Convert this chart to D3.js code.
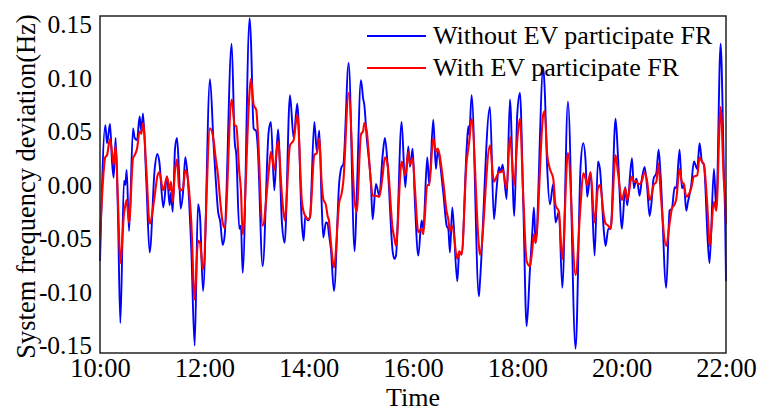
<!DOCTYPE html>
<html>
<head>
<meta charset="utf-8">
<script src="https://cdn.jsdelivr.net/npm/d3@7"></script>
<style>
  html, body { margin: 0; padding: 0; background: #fff; }
  text { font-family: "Liberation Serif", "Times New Roman", serif; fill: #000; }
</style>
</head>
<body>
<div id="chart"></div>
<script>
// minutes after 10:00
const minutes = [
  0, 6.1, 8.1, 11.5, 13.8, 15.7, 18.0, 20.7, 23.4, 27.6, 29.1, 30.7, 33.4, 38.0, 39.9, 42.6, 45.6, 47.5, 49.5, 53.3,
  57.1, 62.9, 65.9, 68.2, 72.8, 77.1, 80.1, 81.7, 83.6, 86.3, 88.6, 90.9, 92.8, 95.5, 98.1, 100.4, 105.0, 108.9, 112.7, 115.0, 118.5,
  126.5, 130.7, 132.6, 135.7, 138.4, 141.1, 143.4, 151.4, 154.9, 156.8, 160.2, 162.1, 164.1, 172.1, 173.6, 176.7, 179.8, 181.3,
  187.1, 194.0, 196.6, 200.5, 204.7, 209.3, 212.4, 218.5, 222.7, 226.9, 232.3, 234.2, 236.1, 239.2,
  241.5, 246.5, 249.5, 252.2, 254.9, 256.8, 259.9, 261.8, 263.3, 265.6, 269.1, 275.2, 277.9, 279.8, 286.0, 292.9, 295.2,
  300.1, 302.8, 304.0, 306.7, 311.6, 313.6, 317.4, 321.2, 325.1, 327.7, 330.8, 336.6, 338.5, 340.4, 346.9, 351.1, 354.6,
  356.5, 359.6, 362.2, 366.1, 369.9, 371.8, 376.4, 378.7, 383.3, 386.4, 388.3, 394.8, 398.7, 400.6, 402.5, 405.2, 410.9,
  413.2, 415.9, 421.7, 423.6, 424.7, 427.4, 435.8, 437.0, 448.5, 453.1, 456.2, 458.8, 460.8, 463.1, 467.7, 471.5, 476.5, 479.9,
  483.0, 486.8, 490.7, 494.5, 497.2, 499.1, 501.0, 509.8, 511.4, 514.4, 517.5, 521.3, 524.0, 527.8, 531.7, 538.2, 547.0,
  552.7, 555.8, 558.5, 560.4, 564.3, 568.9, 572.7, 575.0, 579.6, 581.5, 584.6, 587.3, 593.0,
  595.7, 600.3, 604.1, 606.4, 611.8, 614.1, 616.8, 618.7, 620.6, 623.3, 626.4, 629.4, 632.1, 634.0, 636.7, 639.8, 642.5,
  644.8, 651.3, 655.1, 657.8, 660.9, 662.8, 666.6, 669.3, 671.6, 674.3, 676.2, 680.0, 683.1, 686.9, 689.6, 692.3, 694.6,
  699.2, 701.1, 706.1, 708.8, 713.8, 717.6, 719.1, 720
];

const withoutEV = [
  -0.071, 0.056, 0.039, 0.057, 0.022, 0.007, 0.044, -0.029, -0.129, 0.004, 0.000, 0.014, -0.043, 0.053, 0.044, 0.042, 0.064, 0.050, 0.067, 0.003,
  -0.063, 0.015, 0.029, 0.022, -0.021, 0.008, -0.019, -0.007, -0.025, 0.034, 0.044, 0.012, -0.022, -0.007, 0.026, 0.012, -0.060, -0.150, -0.018, -0.029, -0.099,
  0.099, 0.037, 0.012, -0.024, -0.035, -0.056, -0.047, 0.132, 0.041, 0.028, -0.041, -0.038, -0.082, 0.156, 0.135, 0.053, 0.050, 0.037,
  -0.076, 0.050, 0.059, -0.005, 0.052, -0.036, -0.054, 0.084, 0.044, 0.076, -0.038, -0.052, -0.029, -0.033,
  -0.030, 0.059, 0.031, 0.051, -0.016, -0.049, -0.035, -0.036, -0.046, -0.060, -0.099, 0.003, 0.017, 0.019, 0.114, -0.062, -0.013,
  0.098, 0.080, 0.075, 0.045, 0.001, -0.032, 0.001, -0.010, 0.028, 0.044, 0.019, -0.062, -0.069, -0.066, 0.059, -0.002, 0.036,
  0.017, 0.034, -0.016, -0.066, -0.033, -0.041, 0.026, 0.000, 0.061, 0.015, 0.031, -0.007, -0.038, -0.041, -0.063, -0.021, -0.090,
  -0.063, -0.065, 0.034, 0.055, 0.047, 0.084, -0.104, -0.091, 0.073, -0.032, -0.003, 0.017, 0.012, 0.019, -0.013, 0.080, -0.029, 0.066,
  0.086, -0.016, -0.132, -0.079, -0.044, -0.021, -0.054, 0.110, 0.091, 0.015, -0.018, 0.001, -0.035, -0.025, -0.096, 0.078, -0.153,
  0.017, 0.039, 0.022, -0.011, 0.012, -0.066, 0.022, 0.015, -0.044, -0.057, -0.041, -0.041, 0.062,
  0.028, -0.041, -0.002, -0.019, 0.025, -0.003, 0.006, 0.000, -0.010, 0.006, 0.017, -0.003, -0.029, -0.019, 0.006, 0.011, 0.033,
  0.009, -0.096, -0.024, -0.022, -0.002, -0.003, 0.033, -0.003, 0.000, -0.024, -0.016, 0.000, 0.022, 0.015, 0.039, 0.022, 0.019,
  -0.055, -0.073, 0.015, -0.022, 0.132, 0.012, -0.035, -0.090
];

const withEV = [
  -0.049, 0.026, 0.028, 0.043, 0.031, 0.019, 0.037, -0.016, -0.073, -0.027, -0.019, -0.014, -0.035, 0.025, 0.028, 0.034, 0.050, 0.048, 0.058, 0.015,
  -0.036, -0.010, 0.008, 0.012, -0.005, 0.008, -0.005, 0.003, -0.016, 0.014, 0.024, -0.002, -0.005, -0.003, 0.014, 0.009, -0.035, -0.107, -0.052, -0.054, -0.079,
  0.053, 0.042, 0.028, 0.009, -0.016, -0.035, -0.040, 0.080, 0.056, 0.055, 0.012, -0.005, -0.046, 0.088, 0.099, 0.075, 0.070, 0.053,
  -0.038, 0.012, 0.031, 0.014, 0.041, -0.010, -0.033, 0.037, 0.042, 0.066, -0.016, -0.025, -0.029, -0.032,
  -0.030, 0.028, 0.030, 0.044, 0.003, -0.013, -0.019, -0.029, -0.033, -0.054, -0.077, -0.016, -0.008, 0.003, 0.086, -0.016, -0.025,
  0.047, 0.051, 0.058, 0.051, 0.003, -0.010, -0.010, -0.011, 0.009, 0.026, 0.019, -0.041, -0.049, -0.057, 0.022, 0.009, 0.031,
  0.019, 0.025, -0.003, -0.044, -0.041, -0.046, 0.000, 0.000, 0.044, 0.031, 0.034, 0.003, -0.025, -0.032, -0.043, -0.038, -0.069,
  -0.062, -0.065, 0.022, 0.034, 0.041, 0.062, -0.057, -0.065, 0.037, 0.003, 0.008, 0.012, 0.012, 0.014, -0.003, 0.045, 0.000, 0.042,
  0.062, -0.010, -0.071, -0.076, -0.060, -0.046, -0.054, 0.066, 0.069, 0.028, 0.015, 0.006, -0.019, -0.025, -0.069, 0.030, -0.084,
  -0.019, 0.011, 0.006, 0.000, 0.012, -0.035, -0.003, 0.000, -0.029, -0.036, -0.038, -0.041, 0.028,
  0.012, -0.014, -0.003, -0.014, 0.008, 0.003, 0.004, 0.001, 0.001, 0.004, 0.012, 0.003, -0.014, -0.011, 0.000, 0.003, 0.020,
  -0.007, -0.057, -0.036, -0.022, -0.018, -0.013, 0.015, 0.003, 0.001, -0.011, -0.010, -0.003, 0.008, 0.009, 0.026, 0.022, 0.019,
  -0.029, -0.057, -0.016, -0.024, 0.073, 0.003, -0.011, -0.036
];

const xTickMinutes = [0, 120, 240, 360, 480, 600, 720];
const xTickLabels = ["10:00", "12:00", "14:00", "16:00", "18:00", "20:00", "22:00"];
const yTicks = [-0.15, -0.10, -0.05, 0.00, 0.05, 0.10, 0.15];
const seriesNames = ["Without EV participate FR", "With EV participate FR"];
const seriesColors = ["#0000ff", "#ff0000"];

const width = 760, height = 411;
const margin = { top: 16, right: 34, bottom: 58, left: 100 };

const svg = d3.select("#chart")
  .append("svg")
  .attr("width", width)
  .attr("height", height);

const x = d3.scaleLinear().domain([0, 720]).range([margin.left, width - margin.right]);
const y = d3.scaleLinear().domain([-0.157, 0.158]).range([height - margin.bottom, margin.top]);

// axes (labels only, no tick marks)
const xAxis = svg.append("g")
  .attr("transform", `translate(0,${height - margin.bottom})`)
  .call(d3.axisBottom(x).tickValues(xTickMinutes).tickSize(0).tickPadding(5)
    .tickFormat((d, i) => xTickLabels[i]));
xAxis.select(".domain").remove();
xAxis.selectAll("text").attr("font-size", 26.5).attr("font-family", null);

const fmt = d3.format(".2f");
const yAxis = svg.append("g")
  .attr("transform", `translate(${margin.left},0)`)
  .call(d3.axisLeft(y).tickValues(yTicks).tickSize(0).tickPadding(8)
    .tickFormat(d => fmt(d).replace("\u2212", "-")));
yAxis.select(".domain").remove();
yAxis.selectAll("text").attr("font-size", 25.5).attr("font-family", null);

// lines
const rows = minutes.map((m, i) => ({ m, a: withoutEV[i], b: withEV[i] }));

const lineA = d3.line().x(d => x(d.m)).y(d => y(d.a)).curve(d3.curveMonotoneX);
const lineB = d3.line().x(d => x(d.m)).y(d => y(d.b)).curve(d3.curveMonotoneX);

svg.append("path")
  .datum(rows)
  .attr("fill", "none")
  .attr("stroke", seriesColors[0])
  .attr("stroke-width", 1.9)
  .attr("stroke-linejoin", "round")
  .attr("d", lineA);

svg.append("path")
  .datum(rows)
  .attr("fill", "none")
  .attr("stroke", seriesColors[1])
  .attr("stroke-width", 2.1)
  .attr("stroke-linejoin", "round")
  .attr("d", lineB);

// frame
svg.append("rect")
  .attr("x", margin.left)
  .attr("y", margin.top)
  .attr("width", width - margin.left - margin.right)
  .attr("height", height - margin.top - margin.bottom)
  .attr("fill", "none")
  .attr("stroke", "#222")
  .attr("stroke-width", 1.5);

// legend
const legend = svg.append("g").attr("transform", "translate(367,36)");
seriesNames.forEach((name, i) => {
  const row = legend.append("g").attr("transform", `translate(0,${i * 32})`);
  row.append("line")
    .attr("x1", 0).attr("x2", 59)
    .attr("stroke", seriesColors[i])
    .attr("stroke-width", 1.8);
  row.append("text")
    .attr("x", 66).attr("y", 8)
    .attr("font-size", 26)
    .text(name);
});

// axis titles
svg.append("text")
  .attr("x", (margin.left + width - margin.right) / 2)
  .attr("y", 406)
  .attr("text-anchor", "middle")
  .attr("font-size", 26)
  .text("Time");

svg.append("text")
  .attr("transform", `translate(35,${(margin.top + height - margin.bottom) / 2 + 2}) rotate(-90)`)
  .attr("text-anchor", "middle")
  .attr("font-size", 26.5)
  .text("System frequency deviation(Hz)");
</script>
</body>
</html>
